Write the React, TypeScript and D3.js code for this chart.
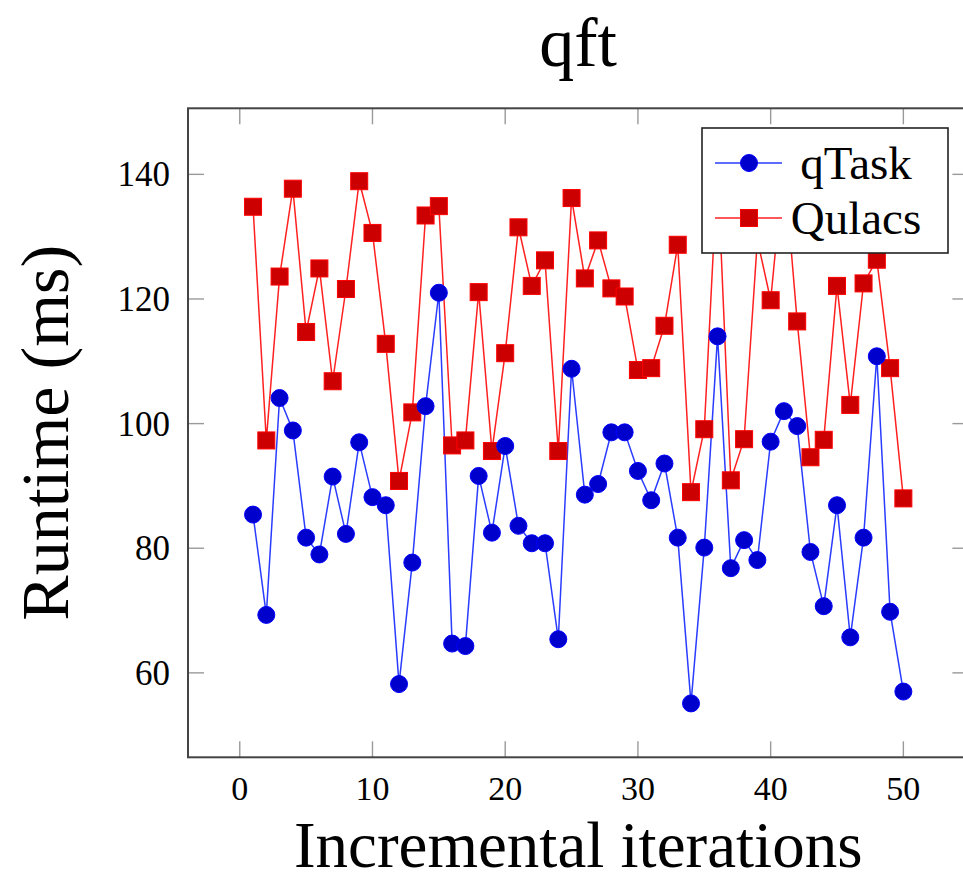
import React, { useEffect, useRef } from 'react';
import * as d3 from 'd3';

// iteration index on the x axis
const iterations = [
  1, 2, 3, 4, 5, 6, 7, 8, 9, 10, 11, 12, 13, 14, 15, 16, 17, 18, 19, 20, 21, 22, 23, 24, 25,
  26, 27, 28, 29, 30, 31, 32, 33, 34, 35, 36, 37, 38, 39, 40, 41, 42, 43, 44, 45, 46, 47, 48, 49, 50,
];

// runtime in ms
const qTaskRuntime = [
  85.4, 69.3, 104.1, 98.9, 81.7, 79.0, 91.5, 82.3, 97.0, 88.2, 86.9, 58.2, 77.7, 102.8, 121.0, 64.7,
  64.3, 91.6, 82.5, 96.4, 83.6, 80.8, 80.8, 65.4, 108.8, 88.6, 90.3, 98.6, 98.6, 92.4, 87.7, 93.6,
  81.7, 55.1, 80.1, 114.0, 76.8, 81.3, 78.1, 97.1, 102.0, 99.6, 79.4, 70.7, 86.9, 65.7, 81.7, 110.8,
  69.8, 57.0,
];

const qulacsRuntime = [
  134.8, 97.3, 123.6, 137.7, 114.7, 124.9, 106.8, 121.6, 138.9, 130.6, 112.8, 90.8, 101.8, 133.4,
  134.9, 96.5, 97.3, 121.1, 95.6, 111.3, 131.5, 122.1, 126.2, 95.6, 136.2, 123.3, 129.4, 121.7, 120.4,
  108.6, 108.9, 115.7, 128.7, 89.0, 99.1, 141.2, 90.9, 97.5, 129.5, 119.8, 141.8, 116.4, 94.6, 97.4,
  122.1, 103.0, 122.5, 126.3, 108.9, 88.0,
];

const seriesNames = ['qTask', 'Qulacs'];
const xTicks = [0, 10, 20, 30, 40, 50];
const yTicks = [60, 80, 100, 120, 140];

const App = () => {
  const chartRef = useRef<SVGSVGElement>(null);

  useEffect(() => {
    const width = 963;
    const height = 882;
    const font = "'Liberation Serif', 'Times New Roman', serif";

    const svg = d3.select(chartRef.current);
    svg.selectAll('*').remove();
    svg.attr('width', width).attr('height', height);

    // pgfplots style axis, the frame runs a bit past the right edge of the picture
    const xScale = d3.scaleLinear().domain([-3.9, 54.9]).range([188, 968.4]);
    const yScale = d3.scaleLinear().domain([46.45, 150.6]).range([757.3, 108.3]);

    const [x0, x1] = xScale.range();
    const [y0, y1] = yScale.range();
    const tickLen = 16;

    // ticks (inside, on all four sides)
    const ticks = svg.append('g').attr('stroke', '#9a9a9a').attr('stroke-width', 1.4);
    xTicks.forEach((t) => {
      ticks.append('line').attr('x1', xScale(t)).attr('x2', xScale(t)).attr('y1', y0).attr('y2', y0 - tickLen);
      ticks.append('line').attr('x1', xScale(t)).attr('x2', xScale(t)).attr('y1', y1).attr('y2', y1 + tickLen);
    });
    yTicks.forEach((t) => {
      ticks.append('line').attr('x1', x0).attr('x2', x0 + tickLen).attr('y1', yScale(t)).attr('y2', yScale(t));
      ticks.append('line').attr('x1', x1).attr('x2', x1 - tickLen).attr('y1', yScale(t)).attr('y2', yScale(t));
    });

    // frame
    svg
      .append('rect')
      .attr('x', x0)
      .attr('y', y1)
      .attr('width', x1 - x0)
      .attr('height', y0 - y1)
      .attr('fill', 'none')
      .attr('stroke', '#444')
      .attr('stroke-width', 2);

    // tick labels
    svg
      .append('g')
      .selectAll('text')
      .data(xTicks)
      .enter()
      .append('text')
      .attr('x', (d) => xScale(d))
      .attr('y', 800)
      .attr('text-anchor', 'middle')
      .attr('font-family', font)
      .attr('font-size', 34)
      .text((d) => d);

    svg
      .append('g')
      .selectAll('text')
      .data(yTicks)
      .enter()
      .append('text')
      .attr('x', 170)
      .attr('y', (d) => yScale(d))
      .attr('dy', '0.34em')
      .attr('text-anchor', 'end')
      .attr('font-family', font)
      .attr('font-size', 35)
      .text((d) => d);

    // axis titles + chart title
    svg
      .append('text')
      .attr('x', (x0 + x1) / 2)
      .attr('y', 66)
      .attr('text-anchor', 'middle')
      .attr('font-family', font)
      .attr('font-size', 70)
      .text('qft');

    svg
      .append('text')
      .attr('x', (x0 + x1) / 2)
      .attr('y', 867)
      .attr('text-anchor', 'middle')
      .attr('font-family', font)
      .attr('font-size', 65)
      .text('Incremental iterations');

    svg
      .append('text')
      .attr('transform', `translate(68, ${(y0 + y1) / 2}) rotate(-90)`)
      .attr('text-anchor', 'middle')
      .attr('font-family', font)
      .attr('font-size', 68)
      .text('Runtime (ms)');

    /* series */
    const line = d3
      .line<number>()
      .x((d, i) => xScale(iterations[i]))
      .y((d) => yScale(d));

    const plot = svg.append('g');

    plot
      .append('path')
      .datum(qulacsRuntime)
      .attr('fill', 'none')
      .attr('stroke', '#ff2020')
      .attr('stroke-width', 1.5)
      .attr('d', line);

    plot
      .append('path')
      .datum(qTaskRuntime)
      .attr('fill', 'none')
      .attr('stroke', '#2a3cff')
      .attr('stroke-width', 1.5)
      .attr('d', line);

    const sq = 17;
    plot
      .append('g')
      .selectAll('rect')
      .data(qulacsRuntime)
      .enter()
      .append('rect')
      .attr('x', (d, i) => xScale(iterations[i]) - sq / 2)
      .attr('y', (d) => yScale(d) - sq / 2)
      .attr('width', sq)
      .attr('height', sq)
      .attr('fill', '#cc0000')
      .attr('stroke', '#ff0000')
      .attr('stroke-width', 1);

    plot
      .append('g')
      .selectAll('circle')
      .data(qTaskRuntime)
      .enter()
      .append('circle')
      .attr('cx', (d, i) => xScale(iterations[i]))
      .attr('cy', (d) => yScale(d))
      .attr('r', 8.5)
      .attr('fill', '#0000cc')
      .attr('stroke', '#0000ff')
      .attr('stroke-width', 1);

    // legend (north east, drawn over the data)
    const legend = svg.append('g');
    legend
      .append('rect')
      .attr('x', 702)
      .attr('y', 128)
      .attr('width', 246)
      .attr('height', 125)
      .attr('fill', '#fff')
      .attr('stroke', '#222')
      .attr('stroke-width', 1.6);

    const legendRows = [163, 218];
    seriesNames.forEach((name, i) => {
      const y = legendRows[i];
      legend
        .append('line')
        .attr('x1', 715)
        .attr('x2', 782)
        .attr('y1', y)
        .attr('y2', y)
        .attr('stroke', i === 0 ? '#2a3cff' : '#ff2020')
        .attr('stroke-width', 1.5);
      if (i === 0) {
        legend.append('circle').attr('cx', 749).attr('cy', y).attr('r', 8.5).attr('fill', '#0000cc').attr('stroke', '#0000ff');
      } else {
        legend
          .append('rect')
          .attr('x', 749 - sq / 2)
          .attr('y', y - sq / 2)
          .attr('width', sq)
          .attr('height', sq)
          .attr('fill', '#cc0000')
          .attr('stroke', '#ff0000');
      }
      legend
        .append('text')
        .attr('x', 856)
        .attr('y', y)
        .attr('dy', '0.34em')
        .attr('text-anchor', 'middle')
        .attr('font-family', font)
        .attr('font-size', 47)
        .text(name);
    });
  }, []);

  return (
    <>
      <style>{'body { margin: 0; }'}</style>
      <svg ref={chartRef} style={{ display: 'block' }}></svg>
    </>
  );
};

export default App;
